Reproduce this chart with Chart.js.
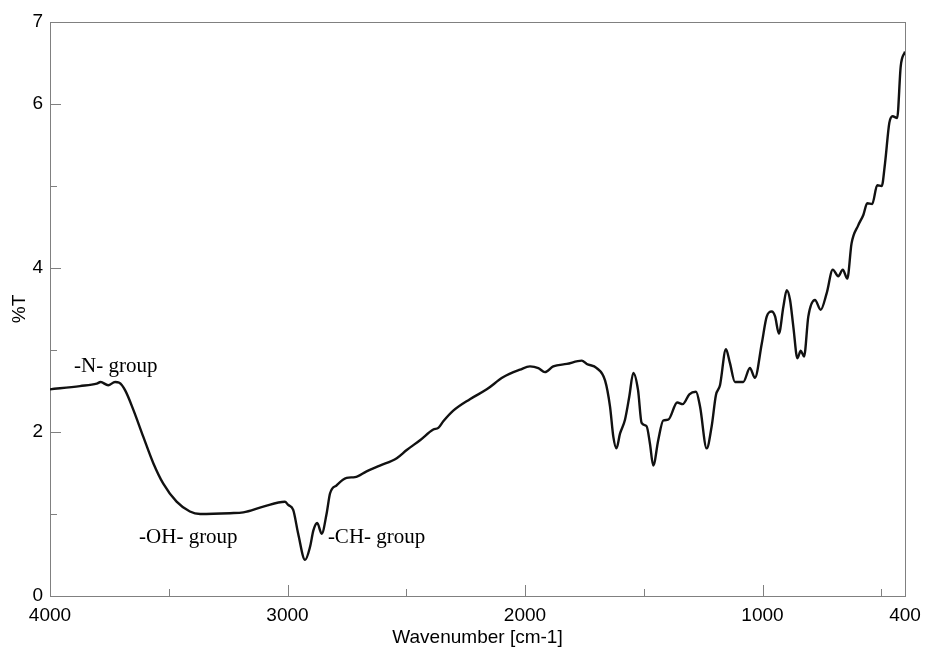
<!DOCTYPE html>
<html>
<head>
<meta charset="utf-8">
<script src="https://cdn.jsdelivr.net/npm/chart.js@4/dist/chart.umd.min.js"></script>
<style>
  html, body { margin: 0; padding: 0; background: #fff; }
  #wrap { width: 926px; height: 655px; }
</style>
</head>
<body>
<div id="wrap"><canvas id="irChart"></canvas></div>
<script>
// wavenumber (cm-1) and %T
const wavenumbers = [
  4000, 3874, 3803, 3787, 3755, 3726, 3708, 3684, 3649, 3607, 3565, 3523, 3467, 3411, 3368,
  3242, 3186, 3102, 3011, 2997, 2976, 2955, 2926, 2905, 2891, 2875, 2856, 2835, 2821, 2793,
  2751, 2716, 2667, 2611, 2540, 2498, 2442, 2386, 2365, 2344, 2302, 2232, 2161, 2091, 2021,
  1979, 1944, 1916, 1881, 1824, 1761, 1740, 1698, 1663, 1642, 1628, 1615, 1600, 1579, 1561,
  1544, 1524, 1509, 1488, 1474, 1460, 1439, 1418, 1397, 1359, 1336, 1308, 1280, 1263, 1235,
  1214, 1196, 1179, 1154, 1137, 1116, 1081, 1053, 1032, 1003, 982, 961, 947, 931, 912,
  898, 884, 870, 853, 839, 825, 807, 779, 755, 730, 704, 681, 662, 643, 625,
  597, 575, 559, 538, 517, 498, 484, 466, 452, 433, 418, 400
];
const transmittance = [
  2.52, 2.56, 2.59, 2.61, 2.57, 2.61, 2.60, 2.51, 2.27, 1.94, 1.62, 1.37, 1.15, 1.03, 1.00,
  1.01, 1.02, 1.09, 1.15, 1.11, 1.05, 0.76, 0.44, 0.60, 0.80, 0.89, 0.76, 1.01, 1.25, 1.35,
  1.44, 1.45, 1.52, 1.59, 1.68, 1.78, 1.90, 2.03, 2.05, 2.13, 2.26, 2.40, 2.52, 2.67, 2.76,
  2.80, 2.78, 2.73, 2.80, 2.83, 2.87, 2.83, 2.78, 2.63, 2.31, 1.94, 1.80, 1.98, 2.15, 2.43,
  2.72, 2.51, 2.11, 2.07, 1.86, 1.59, 1.90, 2.14, 2.15, 2.36, 2.34, 2.46, 2.49, 2.31, 1.80,
  2.07, 2.45, 2.57, 3.01, 2.84, 2.61, 2.61, 2.78, 2.66, 3.08, 3.41, 3.47, 3.41, 3.20, 3.53,
  3.73, 3.61, 3.28, 2.90, 2.99, 2.92, 3.41, 3.61, 3.49, 3.69, 3.98, 3.90, 3.98, 3.87, 4.30,
  4.52, 4.65, 4.79, 4.78, 5.01, 5.00, 5.28, 5.77, 5.85, 5.83, 6.46, 6.64
];

const xTicks = [4000, 3500, 3000, 2500, 2000, 1500, 1000, 500, 400];
const xLabels = [4000, 3000, 2000, 1000, 400];
const yTicks = [0, 1, 2, 3, 4, 5, 6, 7];
const yLabels = [0, 2, 4, 6, 7];

const groupLabels = ['-N- group', '-OH- group', '-CH- group'];
const groupAt = [[3899, 2.73], [3625, 0.65], [2830, 0.65]];

const frameColor = '#808080';
const sansFont = '"Liberation Sans", Arial, sans-serif';

// box frame plus short inward tick marks
const framePlugin = {
  id: 'frame',
  beforeDatasetsDraw(chart) {
    const { ctx, chartArea: a, scales } = chart;
    ctx.save();
    ctx.strokeStyle = frameColor;
    ctx.lineWidth = 1;
    ctx.strokeRect(a.left + 0.5, a.top + 0.5, a.right - a.left, a.bottom - a.top);
    ctx.beginPath();
    xTicks.forEach((v) => {
      const px = Math.round(scales.x.getPixelForValue(v)) + 0.5;
      const len = xLabels.includes(v) ? 11 : 7;
      ctx.moveTo(px, a.bottom);
      ctx.lineTo(px, a.bottom - len);
    });
    yTicks.forEach((v) => {
      const py = Math.round(scales.y.getPixelForValue(v)) + 0.5;
      const len = v % 2 === 0 ? 11 : 7;
      ctx.moveTo(a.left, py);
      ctx.lineTo(a.left + len, py);
    });
    ctx.stroke();
    ctx.restore();
  },
  afterDatasetsDraw(chart) {
    const { ctx, scales } = chart;
    ctx.save();
    ctx.fillStyle = '#000';
    ctx.font = '21px "Liberation Serif", "Times New Roman", serif';
    ctx.textAlign = 'left';
    ctx.textBaseline = 'alphabetic';
    groupLabels.forEach((t, i) => {
      ctx.fillText(t, scales.x.getPixelForValue(groupAt[i][0]), scales.y.getPixelForValue(groupAt[i][1]));
    });
    ctx.restore();
  },
};

const ctx = document.getElementById('irChart').getContext('2d');
new Chart(ctx, {
  type: 'line',
  data: {
    datasets: [
      {
        data: wavenumbers.map((w, i) => ({ x: w, y: transmittance[i] })),
        borderColor: '#111',
        borderWidth: 2.4,
        pointRadius: 0,
        fill: false,
        cubicInterpolationMode: 'monotone',
      },
    ],
  },
  options: {
    responsive: true,
    maintainAspectRatio: false,
    animation: false,
    layout: { padding: { top: 22, right: 21, left: 0, bottom: 0 } },
    scales: {
      x: {
        type: 'linear',
        reverse: true,
        min: 400,
        max: 4000,
        afterBuildTicks: (s) => { s.ticks = xTicks.map((v) => ({ value: v })); },
        afterFit: (s) => {
          s.height = 59;
          s.paddingLeft = 0;
          s.paddingRight = 0;
        },
        grid: { display: false, drawTicks: false },
        border: { display: false },
        ticks: {
          autoSkip: false,
          maxRotation: 0,
          padding: 8,
          color: '#000',
          font: { family: sansFont, size: 19 },
          callback: (v) => (xLabels.includes(v) ? String(v) : ''),
        },
        title: {
          display: true,
          text: 'Wavenumber [cm-1]',
          color: '#000',
          font: { family: sansFont, size: 19 },
          padding: { top: 0, bottom: 6 },
        },
      },
      y: {
        min: 0,
        max: 7,
        afterBuildTicks: (s) => { s.ticks = yTicks.map((v) => ({ value: v })); },
        afterFit: (s) => { s.width = 50; },
        grid: { display: false, drawTicks: false },
        border: { display: false },
        ticks: {
          autoSkip: false,
          padding: 7,
          color: '#000',
          font: { family: sansFont, size: 19 },
          callback: (v) => (yLabels.includes(v) ? String(v) : ''),
        },
        title: {
          display: true,
          text: '%T',
          color: '#000',
          font: { family: sansFont, size: 19 },
          padding: { top: 8, bottom: 0 },
        },
      },
    },
    plugins: {
      legend: { display: false },
      tooltip: { enabled: false },
    },
  },
  plugins: [framePlugin],
});
</script>
</body>
</html>
